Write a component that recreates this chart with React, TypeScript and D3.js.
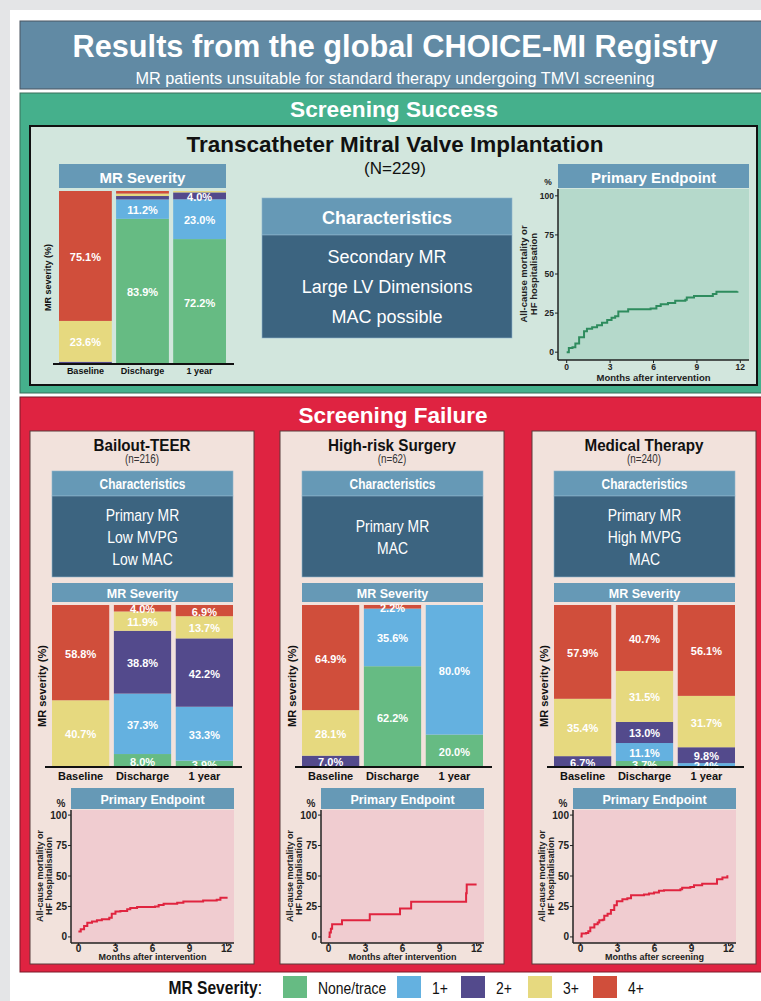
import * as d3 from 'd3';

// ---- data ----
const categories = ['Baseline', 'Discharge', '1 year'];
const severities = ['None/trace', '1+', '2+', '3+', '4+'];
const severityColors = ['#66bb83', '#64b1e0', '#534a8c', '#e6d97f', '#d04e3b'];

// MR severity (%) per time point, order: none/trace, 1+, 2+, 3+, 4+
const tmviSeverity = [
  [0, 0, 1.3, 23.6, 75.1],
  [83.9, 11.2, 2.0, 1.4, 1.5],
  [72.2, 23.0, 4.0, 0.8, 0],
];
const teerSeverity = [
  [0, 0, 0.5, 40.7, 58.8],
  [8.0, 37.3, 38.8, 11.9, 4.0],
  [3.9, 33.3, 42.2, 13.7, 6.9],
];
const surgerySeverity = [
  [0, 0, 7.0, 28.1, 64.9],
  [62.2, 35.6, 0, 0, 2.2],
  [20.0, 80.0, 0, 0, 0],
];
const medicalSeverity = [
  [0, 0, 6.7, 35.4, 57.9],
  [3.7, 11.1, 13.0, 31.5, 40.7],
  [0, 2.4, 9.8, 31.7, 56.1],
];

// cumulative primary endpoint (%), months after intervention / screening
const tmviMonths = [0, 0.15, 0.4, 0.6, 0.86, 1.2, 1.4, 1.76, 2.1, 2.44, 2.8, 3.1, 3.35, 3.57, 4.25, 5.8, 6.2, 6.5, 7.0, 7.5, 8.2, 8.3, 8.8, 10.1, 10.35, 11.8];
const tmviEvents = [0, 2.6, 3.2, 5.5, 9.5, 13.4, 15, 16, 17.3, 18.8, 20.6, 22, 23, 26, 27.5, 28, 29.6, 30.7, 31.4, 32.9, 33.5, 35, 36, 37.2, 38.7, 39];

const teerMonths = [0, 0.19, 0.46, 0.72, 1.1, 1.5, 1.9, 2.5, 2.7, 3.0, 3.4, 3.95, 4.2, 4.75, 6.2, 6.5, 6.9, 8.0, 8.5, 10.1, 11.2, 11.5, 12];
const teerEvents = [4.4, 6.3, 9, 11.7, 12.6, 13.7, 14.5, 15.8, 19, 20.8, 21.3, 22.7, 23.8, 24.6, 25, 26.2, 27.3, 28, 29, 29.8, 30.6, 32.2, 33];

const surgeryMonths = [0, 0.1, 0.2, 0.3, 1.1, 3.35, 5.8, 6.7, 11.15, 11.2, 12];
const surgeryEvents = [0, 3.6, 6.8, 10.4, 13.7, 18.6, 23.3, 28.8, 35.9, 43, 43];

const medicalMonths = [0, 0.1, 0.46, 0.64, 0.8, 1.13, 1.4, 1.53, 1.8, 1.93, 2.2, 2.47, 2.74, 2.95, 3.4, 3.8, 4.1, 5.15, 5.55, 5.96, 6.36, 6.77, 8.1, 8.24, 8.9, 9.2, 9.86, 11.06, 11.5, 11.9];
const medicalEvents = [0.3, 2.7, 3.3, 4.7, 7.7, 10.4, 11.8, 13.7, 14, 17.3, 19, 22, 26, 29.3, 31, 31.8, 34.2, 34.8, 35.6, 36.4, 37.8, 38.4, 39.2, 40.3, 41, 42.5, 43.6, 47.4, 48.8, 50.7];

const monthTicks = [0, 3, 6, 9, 12];
const percentTicks = [0, 25, 50, 75, 100];

// ---- style ----
const ARIAL = "'Liberation Sans', Arial, Helvetica, sans-serif";
const HEADER_BLUE = '#6699b6';
const BODY_BLUE = '#3c6480';

// condensed text: Liberation Sans squeezed horizontally (no narrow font installed)
function NText({ x, y, size, bold = false, anchor = 'middle', fill = '#fff', w, sx = 0.82, children }: any) {
  if (w) {
    return (
      <text x={x} y={y} fontFamily={ARIAL} fontSize={size} fontWeight={bold ? 'bold' : 'normal'} fill={fill}
        textAnchor={anchor} dominantBaseline="central" textLength={w} lengthAdjust="spacingAndGlyphs">{children}</text>
    );
  }
  return (
    <text transform={`translate(${x},${y}) scale(${sx},1)`} fontFamily={ARIAL} fontSize={size}
      fontWeight={bold ? 'bold' : 'normal'} fill={fill} textAnchor={anchor} dominantBaseline="central">{children}</text>
  );
}

type BarProps = {
  x0: number; x1: number; top: number; bottom: number; headerTop: number;
  headerSize: number; labelSize: number; catSize: number; titleSize: number;
  titleX: number; axisPad: number; values: number[][];
};

function SeverityBars(p: BarProps) {
  const x = d3.scaleBand().domain(categories).range([p.x0, p.x1]).paddingInner(0.075);
  const y = d3.scaleLinear().domain([0, 100]).range([p.bottom, p.top]);
  const rows = categories.map((c, i) => {
    const r: any = { cat: c };
    severities.forEach((s, j) => (r[s] = p.values[i][j]));
    return r;
  });
  const series = d3.stack().keys(severities)(rows);
  return (
    <g>
      <rect x={p.x0} y={p.headerTop} width={p.x1 - p.x0} height={p.top - 3 - p.headerTop} fill={HEADER_BLUE} />
      <text x={(p.x0 + p.x1) / 2} y={(p.headerTop + p.top - 3) / 2 + 1} fill="#fff" fontFamily={ARIAL}
        fontWeight="bold" fontSize={p.headerSize} textAnchor="middle" dominantBaseline="central">MR Severity</text>
      {series.map((s, j) =>
        s.map((d, i) => (
          <rect key={`${j}-${i}`} x={x(categories[i])} y={y(d[1])} width={x.bandwidth()}
            height={Math.max(0, y(d[0]) - y(d[1]))} fill={severityColors[j]} />
        ))
      )}
      {series.map((s, j) =>
        s.map((d, i) =>
          d[1] - d[0] >= 2.2 ? (
            <text key={`t${j}-${i}`} x={x(categories[i])! + x.bandwidth() / 2} y={(y(d[0]) + y(d[1])) / 2 + 1}
              fill="#fff" fontFamily={ARIAL} fontWeight="bold" fontSize={p.labelSize}
              textAnchor="middle" dominantBaseline="central">{(d[1] - d[0]).toFixed(1)}%</text>
          ) : null
        )
      )}
      <line x1={p.x0 - p.axisPad} x2={p.x1 + p.axisPad + 2} y1={p.bottom} y2={p.bottom} stroke="#111" strokeWidth={2} />
      {categories.map(c => (
        <text key={c} x={x(c)! + x.bandwidth() / 2} y={p.bottom + p.catSize * 0.8} fontFamily={ARIAL}
          fontWeight="bold" fontSize={p.catSize} textAnchor="middle" dominantBaseline="central" fill="#111">{c}</text>
      ))}
      <text transform={`translate(${p.titleX},${(p.top + p.bottom) / 2}) rotate(-90)`} fontFamily={ARIAL}
        fontWeight="bold" fontSize={p.titleSize} textAnchor="middle" dominantBaseline="central" fill="#111">MR severity (%)</text>
    </g>
  );
}

type KMProps = {
  x0: number; x1: number; headerTop: number; top: number; bottom: number;
  headerSize: number; tickSize: number; labelSize: number; tickY: number; labelY: number;
  months: number[]; events: number[]; color: string; fill: string; xLabel: string;
  titleX: number;
};

function EndpointPlot(p: KMProps) {
  const x = d3.scaleLinear().domain([-0.6, 12.6]).range([p.x0, p.x1]);
  const y = d3.scaleLinear().domain([-5, 105]).range([p.bottom, p.top]);
  const pts: [number, number][] = p.months.map((m, i) => [m, p.events[i]]);
  const line = d3.line<[number, number]>().x(d => x(d[0])).y(d => y(d[1])).curve(d3.curveStepAfter);
  return (
    <g>
      <rect x={p.x0} y={p.headerTop} width={p.x1 - p.x0} height={p.top - p.headerTop} fill={HEADER_BLUE} />
      <text x={(p.x0 + p.x1) / 2} y={(p.headerTop + p.top) / 2 + 1} fill="#fff" fontFamily={ARIAL}
        fontWeight="bold" fontSize={p.headerSize} textAnchor="middle" dominantBaseline="central">Primary Endpoint</text>
      <rect x={p.x0} y={p.top + 1} width={p.x1 - p.x0} height={p.bottom - p.top - 1} fill={p.fill} />
      <path d={line(pts) ?? ''} fill="none" stroke={p.color} strokeWidth={2} />
      <line x1={p.x0} x2={p.x0} y1={p.top + 1} y2={p.bottom} stroke="#222" strokeWidth={1.5} />
      <line x1={p.x0} x2={p.x1} y1={p.bottom} y2={p.bottom} stroke="#222" strokeWidth={1.5} />
      {percentTicks.map(t => (
        <g key={t}>
          <line x1={p.x0 - 3} x2={p.x0} y1={y(t)} y2={y(t)} stroke="#222" />
          <text x={p.x0 - 4} y={y(t)} fontFamily={ARIAL} fontWeight="bold" fontSize={p.tickSize}
            textAnchor="end" dominantBaseline="central" fill="#222">{t}</text>
        </g>
      ))}
      {monthTicks.map(t => (
        <g key={t}>
          <line x1={x(t)} x2={x(t)} y1={p.bottom} y2={p.bottom + 3} stroke="#222" />
          <text x={x(t)} y={p.bottom + p.tickY} fontFamily={ARIAL} fontWeight="bold" fontSize={p.tickSize}
            textAnchor="middle" dominantBaseline="central" fill="#222">{t}</text>
        </g>
      ))}
      <text x={(x(0) + x(12)) / 2} y={p.bottom + p.labelY} fontFamily={ARIAL} fontWeight="bold"
        fontSize={p.labelSize} textAnchor="middle" dominantBaseline="central" fill="#222">{p.xLabel}</text>
      <text x={p.x0 - 10} y={p.top - 6} fontFamily={ARIAL} fontWeight="bold" fontSize={p.tickSize}
        textAnchor="middle" dominantBaseline="central" fill="#222">%</text>
      <text transform={`translate(${p.titleX},${y(50)}) rotate(-90)`} fontFamily={ARIAL} fontWeight="bold"
        fontSize={p.labelSize} textAnchor="middle" fill="#222">
        <tspan x={0} dy={0}>All-cause mortality or</tspan>
        <tspan x={0} dy={p.labelSize * 1.05}>HF hospitalisation</tspan>
      </text>
    </g>
  );
}

function CharBox({ x0, x1, top, mid, bottom, lines, titleSize, lineSize, lineGap, narrow }: any) {
  const cx = (x0 + x1) / 2;
  const start = (mid + bottom) / 2 - ((lines.length - 1) * lineGap) / 2;
  const sx = narrow ? 0.82 : 1;
  return (
    <g>
      <rect x={x0} y={top} width={x1 - x0} height={mid - top} fill={HEADER_BLUE} stroke="#8fb5cc" strokeWidth={0.6} />
      <rect x={x0} y={mid} width={x1 - x0} height={bottom - mid} fill={BODY_BLUE} stroke="#8fb5cc" strokeWidth={0.6} />
      <NText x={cx} y={(top + mid) / 2 + 1} size={titleSize} bold sx={sx}>Characteristics</NText>
      {lines.map((l: string, i: number) => (
        <NText key={l} x={cx} y={start + i * lineGap} size={lineSize} sx={sx}>{l}</NText>
      ))}
    </g>
  );
}

const failurePanels = [
  { x: 30, title: 'Bailout-TEER', tw: 97, n: '(n=216)', lines: ['Primary MR', 'Low MVPG', 'Low MAC'], values: teerSeverity, months: teerMonths, events: teerEvents, xLabel: 'Months after intervention' },
  { x: 280, title: 'High-risk Surgery', tw: 128, n: '(n=62)', lines: ['Primary MR', 'MAC'], values: surgerySeverity, months: surgeryMonths, events: surgeryEvents, xLabel: 'Months after intervention' },
  { x: 532, title: 'Medical Therapy', tw: 119, n: '(n=240)', lines: ['Primary MR', 'High MVPG', 'MAC'], values: medicalSeverity, months: medicalMonths, events: medicalEvents, xLabel: 'Months after screening' },
];

const legendX = [283, 397, 461, 528, 593];

export default function App() {
  return (
    <div style={{ position: 'absolute', left: 0, top: 0 }}>
      <svg width={761} height={1001} style={{ display: 'block' }}>
        <rect width={761} height={1001} fill="#e4e5e7" />
        <rect x={10} y={10} width={751} height={991} fill="#fff" />

        {/* header */}
        <rect x={20} y={21} width={760} height={68} fill="#618aa4" stroke="#4a5560" strokeWidth={1} />
        <NText x={395} y={46} size={31} bold w={645}>Results from the global CHOICE-MI Registry</NText>
        <NText x={395} y={78} size={16} w={519}>MR patients unsuitable for standard therapy undergoing TMVI screening</NText>

        {/* screening success */}
        <rect x={20} y={93} width={760} height={300} fill="#45b08c" stroke="#3a6e5a" strokeWidth={1} />
        <NText x={394} y={109} size={22} bold w={208}>Screening Success</NText>
        <rect x={30} y={126} width={727} height={259} fill="#d2e6dd" stroke="#111" strokeWidth={2} />
        <NText x={395} y={144} size={22} bold w={417} fill="#111">Transcatheter Mitral Valve Implantation</NText>
        <text x={395} y={168} fill="#111" fontFamily={ARIAL} fontSize={17}
          textAnchor="middle" dominantBaseline="central">(N=229)</text>

        <SeverityBars x0={59} x1={226} top={191} bottom={364} headerTop={164} headerSize={15}
          labelSize={11} catSize={9} titleSize={9} titleX={48} axisPad={6} values={tmviSeverity} />
        <CharBox x0={262} x1={512} top={198} mid={235} bottom={338}
          lines={['Secondary MR', 'Large LV Dimensions', 'MAC possible']} titleSize={18} lineSize={18} lineGap={30} narrow={false} />
        <EndpointPlot x0={558} x1={749} headerTop={164} top={188} bottom={360} headerSize={15}
          tickSize={8.5} labelSize={9.5} tickY={7} labelY={17} months={tmviMonths} events={tmviEvents} color="#2e8c5e"
          fill="#b5d9cb" xLabel="Months after intervention" titleX={527} />

        {/* screening failure */}
        <rect x={20} y={397} width={760} height={575} fill="#df2341" stroke="#7a1a28" strokeWidth={1} />
        <NText x={393} y={415} size={22} bold w={189}>Screening Failure</NText>
        {failurePanels.map(f => (
          <g key={f.title}>
            <rect x={f.x} y={431} width={224} height={533} fill="#f2e2dc" stroke="#5a3a3a" strokeWidth={1} />
            <NText x={f.x + 112} y={445} size={16} bold w={f.tw} fill="#111">{f.title}</NText>
            <NText x={f.x + 112} y={459} size={12} fill="#333">{f.n}</NText>
            <CharBox x0={f.x + 22} x1={f.x + 203} top={471} mid={496} bottom={577}
              lines={f.lines} titleSize={14.5} lineSize={17} lineGap={22} narrow />
            <SeverityBars x0={f.x + 22} x1={f.x + 203} top={605} bottom={767} headerTop={583} headerSize={12.5}
              labelSize={11} catSize={11} titleSize={11} titleX={f.x + 12} axisPad={7} values={f.values} />
            <EndpointPlot x0={f.x + 41} x1={f.x + 204} headerTop={788} top={809} bottom={943} headerSize={12.5}
              tickSize={10} labelSize={9} tickY={5} labelY={14} months={f.months} events={f.events} color="#e0243f"
              fill="#f0ccd0" xLabel={f.xLabel} titleX={f.x + 13} />
          </g>
        ))}

        {/* legend */}
        <text transform="translate(262,987) scale(0.82,1)" fill="#111" fontFamily={ARIAL} fontSize={19}
          textAnchor="end" dominantBaseline="central">
          <tspan fontWeight="bold">MR Severity</tspan>:
        </text>
        {severities.map((s, i) => (
          <g key={s}>
            <rect x={legendX[i]} y={976} width={24} height={22} fill={severityColors[i]} />
            <NText x={legendX[i] + 35} y={988} size={17} anchor="start" fill="#111">{s}</NText>
          </g>
        ))}
      </svg>
    </div>
  );
}
